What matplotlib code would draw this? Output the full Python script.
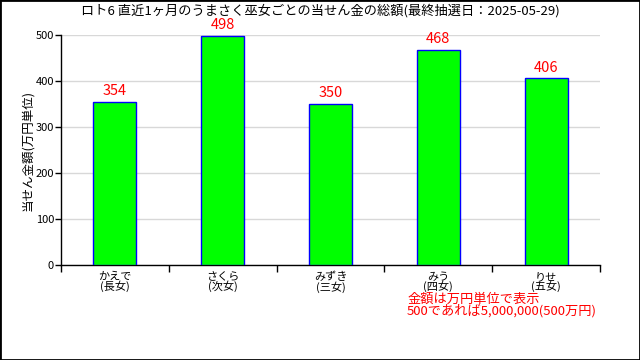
import matplotlib
matplotlib.use("Agg")
import matplotlib.pyplot as plt
from matplotlib.patches import Rectangle

plt.rcParams['font.family'] = ['Noto Sans CJK JP', 'DejaVu Sans']

categories = ["かえで\n(長女)", "さくら\n(次女)", "みずき\n(三女)", "みう\n(四女)", "りせ\n(五女)"]
values = [354, 498, 350, 468, 406]
yticks = [0, 100, 200, 300, 400, 500]
title = "ロト6 直近1ヶ月のうまさく巫女ごとの当せん金の総額(最終抽選日：2025-05-29)"
ylabel = "当せん金額(万円単位)"
note = "金額は万円単位で表示\n500であれば5,000,000(500万円)"

fig = plt.figure(figsize=(6.4, 3.6), dpi=100)
fig.patches.append(Rectangle((0, 0), 1, 1, transform=fig.transFigure, fill=False,
                             edgecolor='black', linewidth=2))
ax = fig.add_axes([61/640, 1-265/360, 539/640, 230/360])

x = list(range(len(categories)))
ax.bar(x, values, width=0.4, color='#00ff00', edgecolor='blue', linewidth=1, zorder=3)
for xi, v in zip(x, values):
    ax.text(xi, v + 8, str(v), ha='center', va='bottom', color='red', fontsize=10.5, zorder=4)

ax.set_xlim(-0.5, len(categories) - 0.5)
ax.set_ylim(0, 500)
ax.set_yticks(yticks)
ax.set_yticklabels([str(t) for t in yticks], fontsize=8)
ax.set_xticks(x)
ax.set_xticklabels(categories, fontsize=8, linespacing=0.85)
ax.tick_params(axis='x', length=0, pad=5)
ax.set_xticks([i - 0.5 for i in range(len(categories) + 1)], minor=True)
ax.tick_params(axis='x', which='minor', length=5, width=1, direction='out')
ax.tick_params(axis='y', length=4, width=1, direction='out', pad=1)
ax.yaxis.grid(True, color='#d8d8d8', linewidth=1, zorder=0)
ax.set_axisbelow(True)
for s in ['top', 'right']:
    ax.spines[s].set_visible(False)
ax.spines['left'].set_linewidth(1)
ax.spines['bottom'].set_linewidth(1)
ax.set_ylabel(ylabel, fontsize=9, labelpad=1)

fig.text(0.5, 1-11/360, title, ha='center', va='center', fontsize=9.5)
fig.text(407/640, 1-305/360, note, ha='left', va='center', color='red', fontsize=9.5, linespacing=0.85)

fig.savefig("out.png", dpi=100)
